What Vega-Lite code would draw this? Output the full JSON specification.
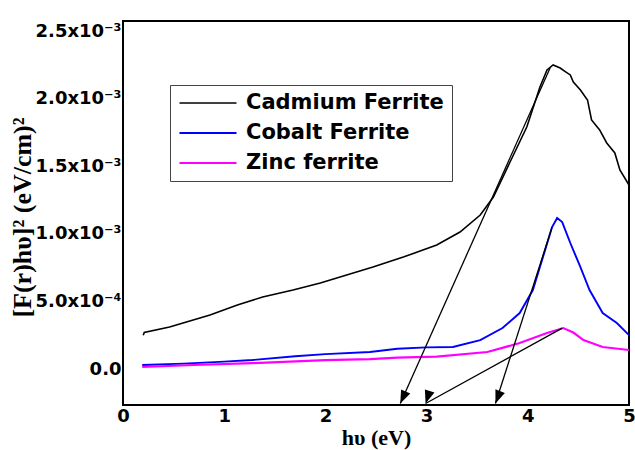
{
  "$schema": "https://vega.github.io/schema/vega-lite/v6.json",
  "width": 506,
  "height": 384,
  "autosize": "none",
  "padding": {"left": 123, "top": 21, "right": 6, "bottom": 45},
  "background": "white",
  "config": {
    "view": {"stroke": "black", "strokeWidth": 2},
    "axis": {
      "grid": false,
      "ticks": false,
      "domain": false,
      "labelFont": "DejaVu Sans",
      "labelFontWeight": "bold",
      "labelFontSize": 18,
      "labelColor": "black",
      "titleColor": "black",
      "titleFont": "Liberation Serif",
      "titleFontWeight": "bold",
      "titleFontSize": 22
    },
    "legend": {
      "labelFont": "DejaVu Sans",
      "labelFontWeight": "bold",
      "labelFontSize": 21,
      "labelColor": "black",
      "labelLimit": 400
    }
  },
  "datasets": {
    "curves": [
      {"s": "Cadmium Ferrite", "hv": 0.20, "v": 0.000250},
      {"s": "Cadmium Ferrite", "hv": 0.21, "v": 0.000270},
      {"s": "Cadmium Ferrite", "hv": 0.46, "v": 0.000311},
      {"s": "Cadmium Ferrite", "hv": 0.86, "v": 0.000399},
      {"s": "Cadmium Ferrite", "hv": 1.13, "v": 0.000473},
      {"s": "Cadmium Ferrite", "hv": 1.38, "v": 0.000533},
      {"s": "Cadmium Ferrite", "hv": 1.68, "v": 0.000584},
      {"s": "Cadmium Ferrite", "hv": 1.95, "v": 0.000636},
      {"s": "Cadmium Ferrite", "hv": 2.21, "v": 0.000695},
      {"s": "Cadmium Ferrite", "hv": 2.47, "v": 0.000754},
      {"s": "Cadmium Ferrite", "hv": 2.77, "v": 0.000828},
      {"s": "Cadmium Ferrite", "hv": 3.10, "v": 0.000917},
      {"s": "Cadmium Ferrite", "hv": 3.33, "v": 0.001013},
      {"s": "Cadmium Ferrite", "hv": 3.53, "v": 0.001139},
      {"s": "Cadmium Ferrite", "hv": 3.66, "v": 0.001272},
      {"s": "Cadmium Ferrite", "hv": 3.82, "v": 0.001524},
      {"s": "Cadmium Ferrite", "hv": 3.99, "v": 0.001790},
      {"s": "Cadmium Ferrite", "hv": 4.12, "v": 0.002086},
      {"s": "Cadmium Ferrite", "hv": 4.19, "v": 0.002212},
      {"s": "Cadmium Ferrite", "hv": 4.25, "v": 0.002249},
      {"s": "Cadmium Ferrite", "hv": 4.32, "v": 0.002226},
      {"s": "Cadmium Ferrite", "hv": 4.37, "v": 0.002200},
      {"s": "Cadmium Ferrite", "hv": 4.42, "v": 0.002175},
      {"s": "Cadmium Ferrite", "hv": 4.45, "v": 0.002123},
      {"s": "Cadmium Ferrite", "hv": 4.52, "v": 0.002064},
      {"s": "Cadmium Ferrite", "hv": 4.59, "v": 0.001990},
      {"s": "Cadmium Ferrite", "hv": 4.63, "v": 0.001842},
      {"s": "Cadmium Ferrite", "hv": 4.71, "v": 0.001768},
      {"s": "Cadmium Ferrite", "hv": 4.78, "v": 0.001672},
      {"s": "Cadmium Ferrite", "hv": 4.86, "v": 0.001598},
      {"s": "Cadmium Ferrite", "hv": 4.91, "v": 0.001472},
      {"s": "Cadmium Ferrite", "hv": 5.00, "v": 0.001361},
      {"s": "Cobalt Ferrite", "hv": 0.19, "v": 0.000030},
      {"s": "Cobalt Ferrite", "hv": 0.60, "v": 0.000040},
      {"s": "Cobalt Ferrite", "hv": 1.00, "v": 0.000055},
      {"s": "Cobalt Ferrite", "hv": 1.28, "v": 0.000067},
      {"s": "Cobalt Ferrite", "hv": 1.70, "v": 0.000095},
      {"s": "Cobalt Ferrite", "hv": 2.00, "v": 0.000110},
      {"s": "Cobalt Ferrite", "hv": 2.44, "v": 0.000126},
      {"s": "Cobalt Ferrite", "hv": 2.71, "v": 0.000150},
      {"s": "Cobalt Ferrite", "hv": 3.00, "v": 0.000160},
      {"s": "Cobalt Ferrite", "hv": 3.26, "v": 0.000163},
      {"s": "Cobalt Ferrite", "hv": 3.53, "v": 0.000214},
      {"s": "Cobalt Ferrite", "hv": 3.75, "v": 0.000303},
      {"s": "Cobalt Ferrite", "hv": 3.92, "v": 0.000414},
      {"s": "Cobalt Ferrite", "hv": 4.05, "v": 0.000584},
      {"s": "Cobalt Ferrite", "hv": 4.15, "v": 0.000828},
      {"s": "Cobalt Ferrite", "hv": 4.24, "v": 0.001050},
      {"s": "Cobalt Ferrite", "hv": 4.29, "v": 0.001117},
      {"s": "Cobalt Ferrite", "hv": 4.34, "v": 0.001087},
      {"s": "Cobalt Ferrite", "hv": 4.42, "v": 0.000932},
      {"s": "Cobalt Ferrite", "hv": 4.52, "v": 0.000754},
      {"s": "Cobalt Ferrite", "hv": 4.61, "v": 0.000584},
      {"s": "Cobalt Ferrite", "hv": 4.74, "v": 0.000414},
      {"s": "Cobalt Ferrite", "hv": 4.88, "v": 0.000340},
      {"s": "Cobalt Ferrite", "hv": 5.00, "v": 0.000251},
      {"s": "Zinc ferrite", "hv": 0.19, "v": 0.000015},
      {"s": "Zinc ferrite", "hv": 0.70, "v": 0.000030},
      {"s": "Zinc ferrite", "hv": 1.28, "v": 0.000044},
      {"s": "Zinc ferrite", "hv": 2.00, "v": 0.000066},
      {"s": "Zinc ferrite", "hv": 2.44, "v": 0.000074},
      {"s": "Zinc ferrite", "hv": 2.71, "v": 0.000085},
      {"s": "Zinc ferrite", "hv": 3.10, "v": 0.000092},
      {"s": "Zinc ferrite", "hv": 3.60, "v": 0.000126},
      {"s": "Zinc ferrite", "hv": 3.92, "v": 0.000192},
      {"s": "Zinc ferrite", "hv": 4.19, "v": 0.000266},
      {"s": "Zinc ferrite", "hv": 4.35, "v": 0.000303},
      {"s": "Zinc ferrite", "hv": 4.45, "v": 0.000270},
      {"s": "Zinc ferrite", "hv": 4.55, "v": 0.000214},
      {"s": "Zinc ferrite", "hv": 4.74, "v": 0.000163},
      {"s": "Zinc ferrite", "hv": 5.00, "v": 0.000141}
    ],
    "arrows": [
      {"id": "Cd", "x0": 4.22, "y0": 0.002226, "x1": 2.74, "y1": -0.000255},
      {"id": "Co", "x0": 4.24, "y0": 0.001050, "x1": 3.68, "y1": -0.000255},
      {"id": "Zn", "x0": 4.34, "y0": 0.000303, "x1": 2.99, "y1": -0.000255}
    ]
  },
  "layer": [
    {
      "data": {"name": "curves"},
      "mark": {"type": "line", "interpolate": "linear"},
      "encoding": {
        "x": {
          "field": "hv", "type": "quantitative",
          "scale": {"domain": [0, 5], "nice": false, "zero": false},
          "axis": {"title": "hυ (eV)", "values": [0, 1, 2, 3, 4, 5], "format": "d", "labelFlush": false, "labelPadding": 2, "titlePadding": 2}
        },
        "y": {
          "field": "v", "type": "quantitative",
          "scale": {"domain": [-0.000266, 0.002574], "nice": false, "zero": false},
          "axis": {
            "title": "[F(r)hυ]² (eV/cm)²",
            "values": [0, 0.0005, 0.001, 0.0015, 0.002, 0.0025],
            "labelExpr": "datum.value == 0 ? '0.0' : datum.value < 0.0009 ? format(datum.value*10000,'.1f') + 'x10⁻⁴' : format(datum.value*1000,'.1f') + 'x10⁻³'",
            "labelPadding": 2,
            "titleX": -101,
            "titleY": 196,
            "titleAngle": -90,
            "titleAlign": "center",
            "titleBaseline": "middle",
            "titleFontSize": 26
          }
        },
        "color": {
          "field": "s", "type": "nominal",
          "scale": {"domain": ["Cadmium Ferrite", "Cobalt Ferrite", "Zinc ferrite"], "range": ["#000000", "#0000ff", "#ff00ff"]},
          "legend": {
            "title": null,
            "orient": "none",
            "legendX": 47,
            "legendY": 64,
            "symbolType": "stroke",
            "symbolSize": 3250,
            "symbolStrokeWidth": 2,
            "clipHeight": 20,
            "labelOffset": 8,
            "rowPadding": 9,
            "padding": 8,
            "strokeColor": "#444444",
            "fillColor": "white"
          }
        },
        "strokeWidth": {
          "field": "s", "type": "nominal",
          "scale": {"domain": ["Cadmium Ferrite", "Cobalt Ferrite", "Zinc ferrite"], "range": [1.6, 2.2, 1.6]},
          "legend": null
        }
      }
    },
    {
      "data": {"name": "arrows"},
      "mark": {"type": "rule", "color": "black", "strokeWidth": 1.3},
      "encoding": {
        "x": {"field": "x0", "type": "quantitative"},
        "y": {"field": "y0", "type": "quantitative"},
        "x2": {"field": "x1"},
        "y2": {"field": "y1"}
      }
    },
    {
      "data": {"name": "arrows"},
      "mark": {"type": "point", "shape": "M0,0L-0.38,1L0.38,1Z", "filled": true, "color": "black", "opacity": 1, "size": 700, "strokeWidth": 0},
      "encoding": {
        "x": {"field": "x1", "type": "quantitative"},
        "y": {"field": "y1", "type": "quantitative"},
        "angle": {
          "field": "id", "type": "nominal",
          "scale": {"domain": ["Cd", "Co", "Zn"], "range": [204, 198, 241]},
          "legend": null
        }
      }
    }
  ]
}
